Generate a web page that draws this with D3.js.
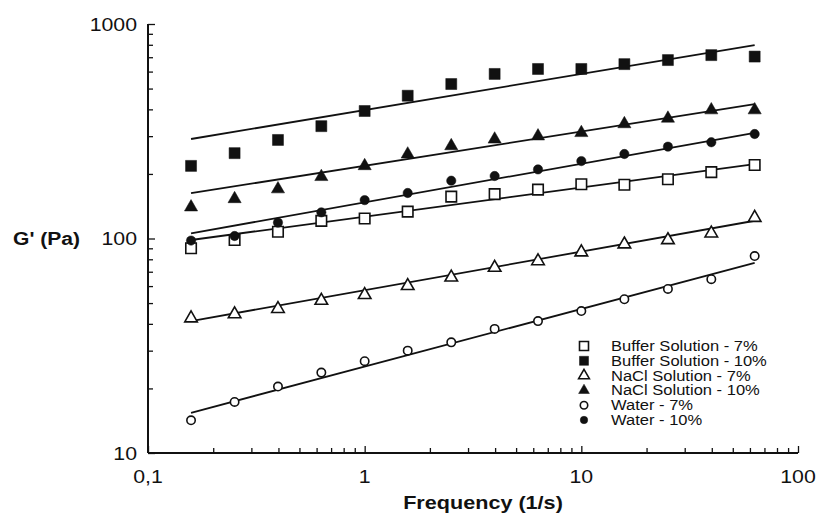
<!DOCTYPE html>
<html>
<head>
<meta charset="utf-8">
<script src="https://cdn.jsdelivr.net/npm/d3@7"></script>
<style>
  body { margin: 0; background: #fff; }
  svg text { font-family: "Liberation Sans", Arial, sans-serif; fill: #111; }
</style>
</head>
<body>
<div class="chart"></div>
<script>
// frequencies (1/s)
var freqs = [0.158, 0.251, 0.398, 0.631, 1, 1.58, 2.51, 3.98, 6.31, 10, 15.8, 25.1, 39.8, 63.1];

// G' (Pa) per sample
var buffer7  = [90, 98.4, 107.6, 120.8, 124, 133.4, 156.7, 161, 169, 179, 178, 189, 204, 220];
var buffer10 = [218, 250, 288, 334, 393, 463, 525, 585, 617, 617, 650, 679, 716, 705];
var nacl7    = [42.5, 44.4, 47, 51.3, 54.6, 60.1, 65.9, 73.1, 78.5, 86.3, 94, 98.4, 105.7, 125];
var nacl10   = [140, 153, 170, 194, 218, 247, 270, 290, 300, 311, 342, 363, 397, 397];
var water7   = [14.2, 17.3, 20.4, 23.7, 26.8, 30, 32.8, 37.9, 41.2, 45.9, 52.1, 58.2, 64.6, 82.8];
var water10  = [97.8, 102.7, 118.6, 132.4, 151, 163, 186, 195.6, 210, 229.6, 247.7, 268, 281, 307];

// fitted power-law lines: value at first and last frequency
var fitBuffer7  = [98.4, 222];
var fitBuffer10 = [291, 798];
var fitNacl7    = [41.2, 121];
var fitNacl10   = [162.6, 423];
var fitWater7   = [15.4, 77];
var fitWater10  = [105.7, 311];

var seriesNames = ['Buffer Solution - 7%', 'Buffer Solution - 10%', 'NaCl Solution - 7%',
                   'NaCl Solution - 10%', 'Water - 7%', 'Water - 10%'];
var xTicks = [0.1, 1, 10, 100];
var xTickLabels = ['0,1', '1', '10', '100'];
var yTicks = [10, 100, 1000];

var series = [
  { name: seriesNames[0], values: buffer7,  fit: fitBuffer7,  shape: 'square',   filled: false },
  { name: seriesNames[1], values: buffer10, fit: fitBuffer10, shape: 'square',   filled: true },
  { name: seriesNames[2], values: nacl7,    fit: fitNacl7,    shape: 'triangle', filled: false },
  { name: seriesNames[3], values: nacl10,   fit: fitNacl10,   shape: 'triangle', filled: true },
  { name: seriesNames[4], values: water7,   fit: fitWater7,   shape: 'circle',   filled: false },
  { name: seriesNames[5], values: water10,  fit: fitWater10,  shape: 'circle',   filled: true }
];

var W = 819, H = 520;
var margin = { top: 24, right: 21, bottom: 67, left: 148 };

var svg = d3.select('.chart')
  .append('svg')
  .attr('width', W)
  .attr('height', H);

var xScale = d3.scaleLog()
  .domain([0.1, 100])
  .range([margin.left, W - margin.right]);

var yScale = d3.scaleLog()
  .domain([10, 1000])
  .range([H - margin.bottom, margin.top]);

// the scanned figure has its lettering a bit wider than the font: stretch it
function widen(sel, k) {
  sel.each(function () {
    var w = this.getComputedTextLength();
    d3.select(this).attr('textLength', w * k).attr('lengthAdjust', 'spacingAndGlyphs');
  });
}

// minor ticks (2..9 in each decade)
var xMinor = xScale.ticks().filter(d => xTicks.indexOf(d) < 0);
var yMinor = yScale.ticks().filter(d => yTicks.indexOf(d) < 0);

// x axis (ticks pointing inward)
var gx = svg.append('g')
  .attr('transform', 'translate(0,' + (H - margin.bottom) + ')');
gx.call(d3.axisTop(xScale).tickValues(xMinor).tickSize(5).tickFormat(''));
gx.append('g').call(d3.axisTop(xScale).tickValues(xTicks).tickSize(7).tickFormat(''));
gx.selectAll('.domain').attr('stroke', '#111').attr('stroke-width', 2);
gx.selectAll('.tick line').attr('stroke', '#111').attr('stroke-width', 1.3);
gx.selectAll('.domain').attr('d', 'M' + xScale.range()[0] + ',0H' + xScale.range()[1]);

gx.selectAll('.xlab')
  .data(xTicks)
  .enter()
  .append('text')
  .attr('class', 'xlab')
  .attr('x', d => xScale(d))
  .attr('y', 30)
  .attr('text-anchor', 'middle')
  .style('font-size', '19px')
  .text((d, i) => xTickLabels[i])
  .call(widen, 1.12);

// y axis (ticks pointing inward)
var gy = svg.append('g')
  .attr('transform', 'translate(' + margin.left + ',0)');
gy.call(d3.axisRight(yScale).tickValues(yMinor).tickSize(5).tickFormat(''));
gy.append('g').call(d3.axisRight(yScale).tickValues(yTicks).tickSize(7).tickFormat(''));
gy.selectAll('.domain').attr('stroke', '#111').attr('stroke-width', 2);
gy.selectAll('.tick line').attr('stroke', '#111').attr('stroke-width', 1.3);
gy.selectAll('.domain').attr('d', 'M0,' + yScale.range()[0] + 'V' + yScale.range()[1]);

gy.selectAll('.ylab')
  .data(yTicks)
  .enter()
  .append('text')
  .attr('class', 'ylab')
  .attr('x', -11)
  .attr('y', d => yScale(d))
  .attr('dy', '0.36em')
  .attr('text-anchor', 'end')
  .style('font-size', '19px')
  .text(d => d)
  .call(widen, 1.12);

// axis titles
svg.append('text')
  .attr('x', 13)
  .attr('y', yScale(100))
  .attr('dy', '0.36em')
  .style('font-size', '18px')
  .style('font-weight', 'bold')
  .text("G' (Pa)")
  .call(widen, 1.17);

svg.append('text')
  .attr('x', 483)
  .attr('y', 509)
  .attr('text-anchor', 'middle')
  .style('font-size', '18px')
  .style('font-weight', 'bold')
  .text('Frequency (1/s)')
  .call(widen, 1.2);

// fit lines
var line = d3.line()
  .x(d => xScale(d[0]))
  .y(d => yScale(d[1]));

svg.selectAll('.fit')
  .data(series)
  .enter()
  .append('path')
  .attr('class', 'fit')
  .attr('d', s => line([[freqs[0], s.fit[0]], [freqs[freqs.length - 1], s.fit[1]]]))
  .style('stroke', '#111')
  .style('stroke-width', 1.8)
  .style('fill', 'none');

// marker symbols
function symbolFor(s, size) {
  var type = s.shape === 'square' ? d3.symbolSquare
    : s.shape === 'triangle' ? d3.symbolTriangle : d3.symbolCircle;
  var area = s.shape === 'square' ? size * size
    : s.shape === 'triangle' ? size * size * 0.62 : Math.PI * size * size / 4.6;
  return d3.symbol().type(type).size(area)();
}

function styleMarker(sel, s) {
  sel.style('fill', s.filled ? '#111' : '#fff')
    .style('stroke', '#111')
    .style('stroke-width', s.filled ? 0.5 : 1.6);
}

series.forEach(function (s) {
  var size = s.filled ? (s.shape === 'circle' ? 10 : 11) : (s.shape === 'circle' ? 9 : 10.5);
  svg.append('g')
    .selectAll('path')
    .data(s.values)
    .enter()
    .append('path')
    .attr('d', symbolFor(s, size))
    .attr('transform', (d, i) => 'translate(' + xScale(freqs[i]) + ',' + yScale(d) + ')')
    .call(styleMarker, s);
});

// legend
var legend = svg.append('g')
  .attr('transform', 'translate(584,346)');

var rows = legend.selectAll('.row')
  .data(series)
  .enter()
  .append('g')
  .attr('class', 'row')
  .attr('transform', (d, i) => 'translate(0,' + (i * 14.8) + ')');

rows.append('path')
  .attr('d', s => symbolFor(s, s.shape === 'circle' ? 8 : 9))
  .each(function (s) { d3.select(this).call(styleMarker, s); });

rows.append('text')
  .attr('x', 27)
  .attr('dy', '0.36em')
  .style('font-size', '14px')
  .text(s => s.name)
  .call(widen, 1.18);
</script>
</body>
</html>
